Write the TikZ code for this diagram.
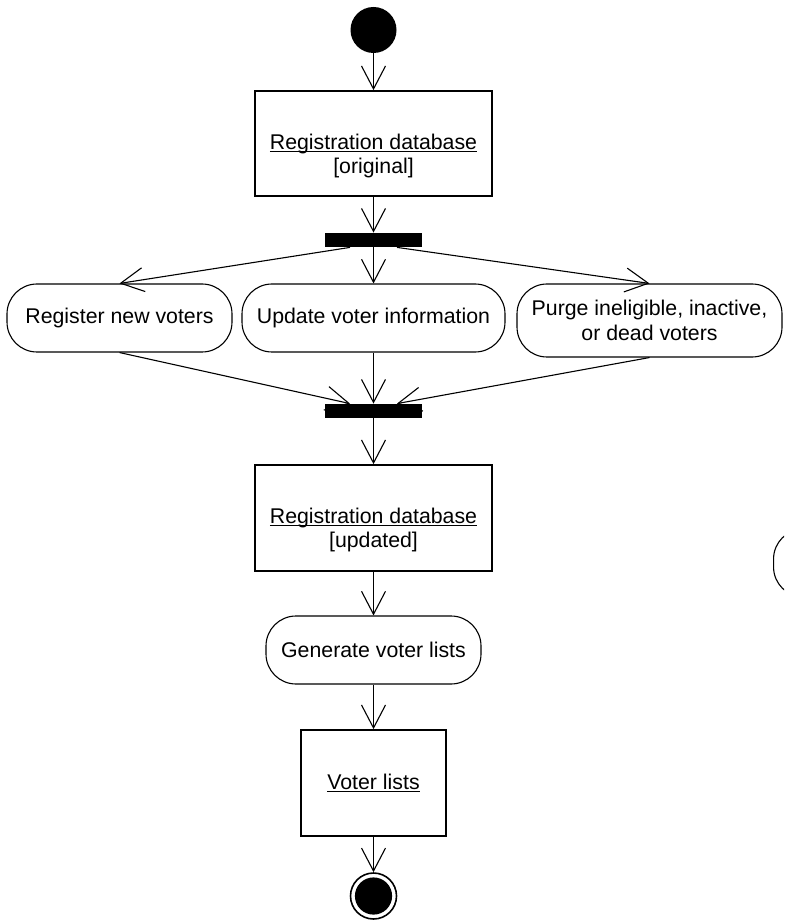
\documentclass[tikz,border=0pt]{standalone}
\usepackage{fontspec}
\setmainfont{Liberation Sans}
\usetikzlibrary{arrows.meta}

\newcommand{\objname}[1]{\setbox0\hbox{#1}\rlap{\rule[-1.4pt]{\wd0}{0.5pt}}\box0}

\tikzset{
  objbox/.style={draw, line width=0.85pt, inner sep=0pt},
  action/.style={draw, line width=0.55pt, rounded corners=15pt, minimum height=34pt, align=center, inner sep=0pt},
  bar/.style={fill=black, minimum width=48.5pt, minimum height=7pt, inner sep=0pt},
  startdot/.style={circle, fill=black, minimum size=23pt, inner sep=0pt},
  finalnode/.style={circle, draw, line width=0.8pt, minimum size=23pt, inner sep=0pt,
    path picture={\fill (path picture bounding box.center) circle (9.3pt);}},
  flow/.style={line width=0.55pt, -{Straight Barb[length=11.5pt, width=12pt]}}
}

\begin{document}
\begin{tikzpicture}[x=0.5pt, y=-0.5pt, font=\fontsize{10.65pt}{12.15pt}\selectfont]

    % frame
    \useasboundingbox (0,0) rectangle (784,924);
    \clip (0,0) rectangle (784,924);

    % start and original database
    \node[startdot] (start) at (373.5,30) {};
    \node[objbox, minimum width=118.5pt, minimum height=52.5pt] (db1) at (373.5,143.5) {\objname{Registration database}};
    \node[anchor=base] (db1s) at ([yshift=-12.15pt]db1.base) {[original]};

    % fork bar
    \node[bar] (fork) at (373.5,240) {};

    % parallel actions
    \node[action, minimum width=112.5pt] (reg) at (119.5,318) {Register new voters};
    \node[action, minimum width=131.5pt] (upd) at (373.5,318) {Update voter information};
    \node[action, minimum width=132.5pt, minimum height=36.5pt] (purge) at (649.5,320.5) {Purge ineligible, inactive,\\or dead voters};
    \node[action, minimum width=60pt, anchor=west] (next) at (773,563) {};

    % join bar
    \node[bar] (join) at (373.5,411) {};

    % updated database, voter lists, end
    \node[objbox, minimum width=118.5pt, minimum height=53pt] (db2) at (373.5,518) {\objname{Registration database}};
    \node[anchor=base] (db2s) at ([yshift=-12.15pt]db2.base) {[updated]};
    \node[action, minimum width=107.5pt] (gen) at (373.5,650) {Generate voter lists};
    \node[objbox, minimum width=72.5pt, minimum height=53pt] (lists) at (373.5,783) {\objname{Voter lists}};
    \node[finalnode] (stop) at (373.5,896) {};

    % flows
    \foreach \a/\b in {start/db1, db1/fork, fork/upd, join/db2, db2/gen, gen/lists, lists/stop}
        \draw[flow] (\a) -- (\b);
    \draw[flow] ([xshift=-11.75pt]fork.south) -- (reg.north);
    \draw[flow] ([xshift=11.75pt]fork.south) -- (purge.north);
    \draw[flow] (reg.south) -- ([xshift=-11.75pt]join.north);
    \draw[flow] (upd.south) -- (join.north);
    \draw[flow] (purge.south) -- ([xshift=11.75pt]join.north);
\end{tikzpicture}
\end{document}
